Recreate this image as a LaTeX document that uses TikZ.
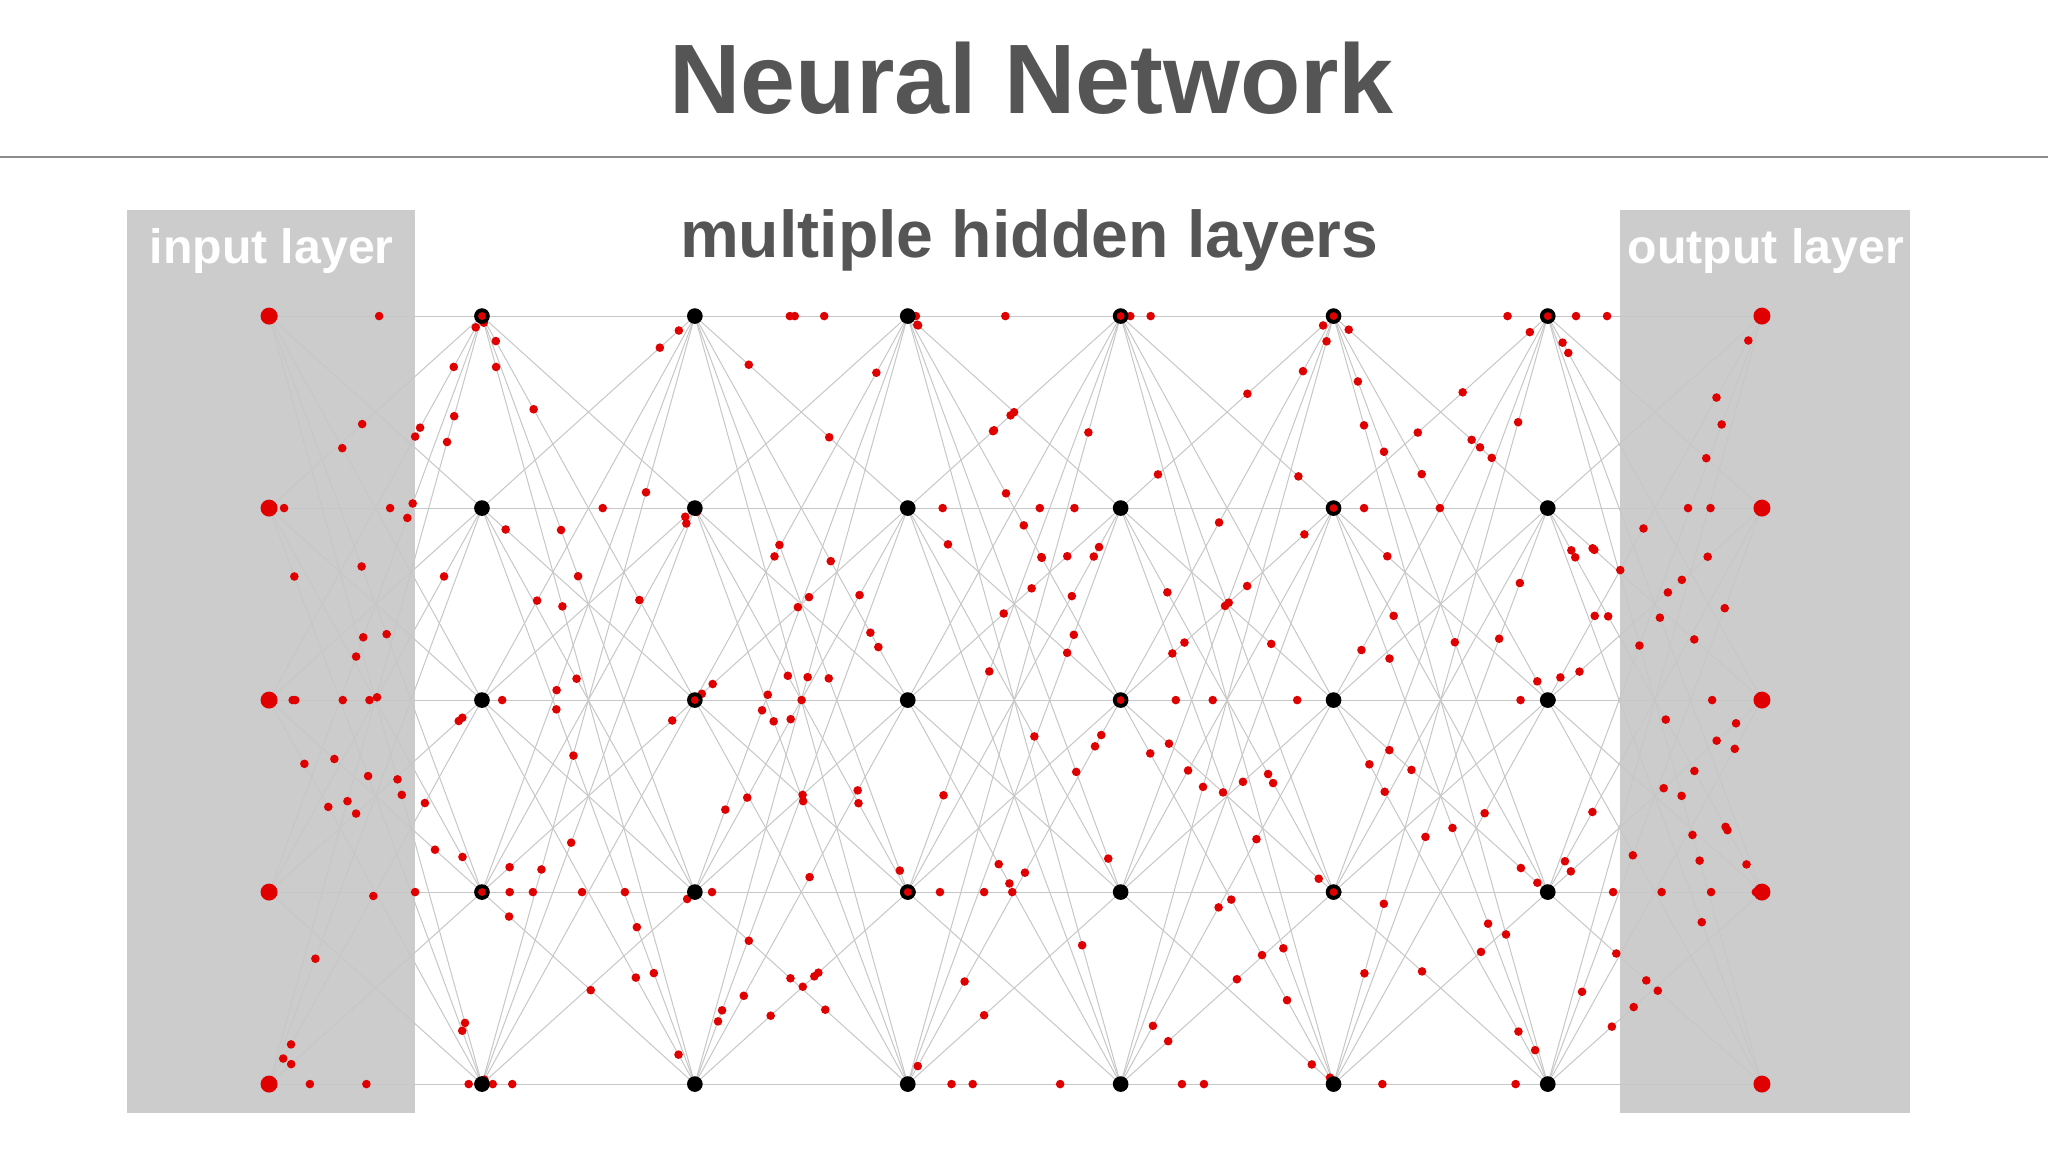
\documentclass[tikz,border=0pt]{standalone}
\usepackage{fontspec}
\setmainfont{Liberation Sans}
\usetikzlibrary{calc}
\definecolor{tgray}{HTML}{555555}
\definecolor{panel}{HTML}{CCCCCC}
\definecolor{sig}{HTML}{E00000}
\begin{document}
\begin{tikzpicture}[x=0.01cm,y=-0.01cm,
  edge/.style={draw=black!22,line width=0.22pt},
  hid/.style={circle,fill=black,inner sep=0pt,minimum size=12*0.01cm},
  io/.style={circle,fill=sig,inner sep=0pt,minimum size=13*0.01cm},
  lbl/.style={font=\bfseries,inner sep=0pt}]
\useasboundingbox (0,0) rectangle (1568,882);
\node[lbl,text=tgray,font=\fontsize{21.5}{25}\bfseries] (title) at (790,60) {Neural Network};
\draw[black!45,line width=0.5pt] (0,120) -- (1568,120);
\fill[panel] (97,161) rectangle (318,852);
\fill[panel] (1240,161) rectangle (1462,852);
\node[lbl,text=white,font=\fontsize{10.5}{12}\bfseries] (inl) at (208,192) {input layer};
\node[lbl,text=white,font=\fontsize{10.5}{12}\bfseries] (outl) at (1352,192) {output layer};
\node[lbl,text=tgray,font=\fontsize{14.4}{16}\bfseries] (hl) at (788,184) {multiple hidden layers};
\foreach \c/\x in {1/206,2/369,3/532,4/695,5/858,6/1021,7/1185,8/1349}
  \foreach \r/\y in {1/242,2/389,3/536,4/683,5/830}
    \coordinate (n\c-\r) at (\x,\y);
\foreach \c in {1,...,7}{
  \pgfmathtruncatemacro\cn{\c+1}
  \foreach \a in {1,...,5} \foreach \b in {1,...,5}
    \draw[edge] (n\c-\a) -- (n\cn-\b);
}
\pgfmathsetseed{7}
\foreach \k in {1,...,330}{
  \pgfmathtruncatemacro\l{random(1,7)}
  \pgfmathtruncatemacro\lp{\l+1}
  \pgfmathtruncatemacro\a{random(1,5)}
  \pgfmathtruncatemacro\b{random(1,5)}
  \pgfmathsetmacro\t{rnd}
  \fill[sig] ($(n\l-\a)!\t!(n\lp-\b)$) circle (3.3);
}
\foreach \r in {1,...,5}{
  \node[io] (in\r) at (n1-\r) {};
  \node[io] (out\r) at (n8-\r) {};
  \foreach \c in {2,...,7} \node[hid] (h\c-\r) at (n\c-\r) {};
}
\foreach \p in {2-1,7-1,3-3,5-3,2-4,4-4,6-4,6-2,5-1,6-1}
  \fill[sig] (n\p) circle (3);
\end{tikzpicture}
\end{document}
